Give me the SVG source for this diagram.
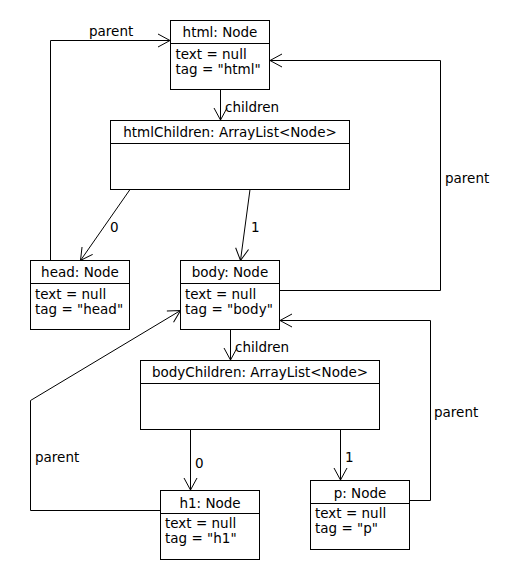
<svg xmlns="http://www.w3.org/2000/svg" width="520" height="580" viewBox="0 0 520 580">
<style>
text{font-family:"DejaVu Sans","Liberation Sans",sans-serif;font-size:13.5px;fill:#000}
.t{text-anchor:middle}
.box{fill:#fff;stroke:#000;stroke-width:1}
.dv{stroke:#000;stroke-width:1}
.c{fill:none;stroke:#000;stroke-width:1;marker-end:url(#arr)}
</style>
<defs>
<marker id="arr" markerUnits="userSpaceOnUse" orient="auto" markerWidth="16" markerHeight="16" refX="0" refY="0" viewBox="-14 -8 16 16" overflow="visible">
<path d="M-12,-6.5 L0,0 L-12,6.5" fill="none" stroke="#000" stroke-width="1"/>
</marker>
</defs>
<rect width="520" height="580" fill="#fff"/>
<g id="connectors">
<path class="c" d="M220.5,89.5 V120"/>
<text x="225" y="112">children</text>
<path class="c" d="M130,189.5 L80.5,260.5"/>
<text x="110" y="232">0</text>
<path class="c" d="M250,189.5 L240.5,260.5"/>
<text x="251" y="232">1</text>
<path class="c" d="M50.5,260.5 V40.5 H170"/>
<text x="89" y="36">parent</text>
<path class="c" d="M279.5,290.5 H440.5 V60.5 H270"/>
<text x="445" y="183">parent</text>
<path class="c" d="M230.5,329.5 V360"/>
<text x="235" y="352">children</text>
<path class="c" d="M190.5,429.5 V490"/>
<text x="195" y="468">0</text>
<path class="c" d="M340.5,429.5 V480"/>
<text x="345" y="462">1</text>
<path class="c" d="M160.5,510.5 H30.5 V400.5 L180.5,310.5"/>
<text x="35" y="462">parent</text>
<path class="c" d="M409.5,500.5 H430.5 V320.5 H280"/>
<text x="434" y="417">parent</text>
</g>
<g id="html">
<rect class="box" x="170.5" y="20.5" width="99" height="69"/>
<line class="dv" x1="170.5" y1="43.5" x2="269.5" y2="43.5"/>
<text class="t" x="220" y="37">html: Node</text>
<text x="175.5" y="59">text = null</text>
<text x="175.5" y="74">tag = "html"</text>
</g>
<g id="htmlChildren">
<rect class="box" x="110.5" y="120.5" width="239" height="69"/>
<line class="dv" x1="110.5" y1="143.5" x2="349.5" y2="143.5"/>
<text class="t" x="230" y="137">htmlChildren: ArrayList&lt;Node&gt;</text>
</g>
<g id="head">
<rect class="box" x="30.5" y="260.5" width="99" height="69"/>
<line class="dv" x1="30.5" y1="283.5" x2="129.5" y2="283.5"/>
<text class="t" x="80" y="277">head: Node</text>
<text x="35" y="299">text = null</text>
<text x="35" y="314">tag = "head"</text>
</g>
<g id="body">
<rect class="box" x="180.5" y="260.5" width="99" height="69"/>
<line class="dv" x1="180.5" y1="283.5" x2="279.5" y2="283.5"/>
<text class="t" x="230" y="277">body: Node</text>
<text x="185" y="299">text = null</text>
<text x="185" y="314">tag = "body"</text>
</g>
<g id="bodyChildren">
<rect class="box" x="140.5" y="360.5" width="239" height="69"/>
<line class="dv" x1="140.5" y1="383.5" x2="379.5" y2="383.5"/>
<text class="t" x="260" y="377">bodyChildren: ArrayList&lt;Node&gt;</text>
</g>
<g id="h1">
<rect class="box" x="160.5" y="490.5" width="99" height="69"/>
<line class="dv" x1="160.5" y1="513.5" x2="259.5" y2="513.5"/>
<text class="t" x="210" y="508">h1: Node</text>
<text x="165" y="528">text = null</text>
<text x="165" y="543">tag = "h1"</text>
</g>
<g id="p">
<rect class="box" x="310.5" y="480.5" width="99" height="69"/>
<line class="dv" x1="310.5" y1="503.5" x2="409.5" y2="503.5"/>
<text class="t" x="360" y="498">p: Node</text>
<text x="315" y="518">text = null</text>
<text x="315" y="533">tag = "p"</text>
</g>
</svg>
